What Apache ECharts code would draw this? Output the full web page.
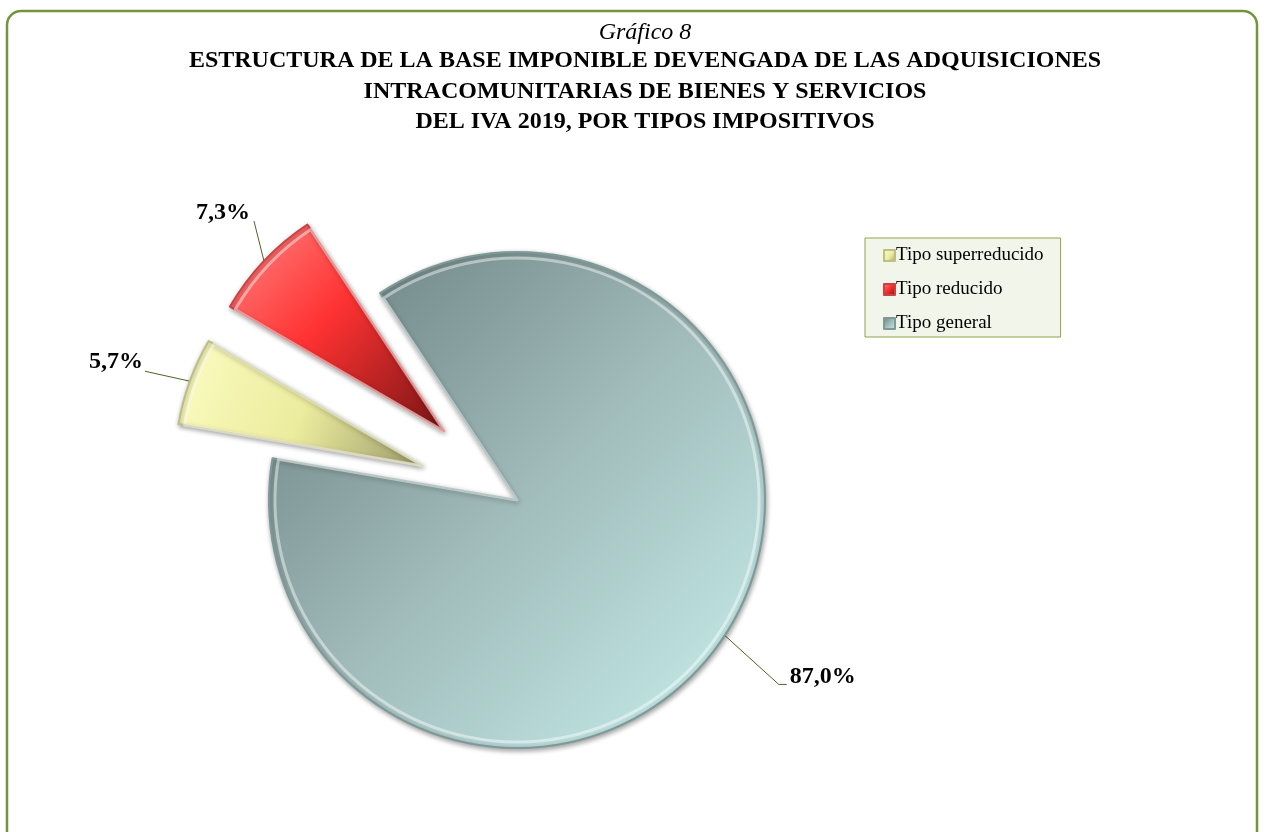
<!DOCTYPE html>
<html>
<head>
<meta charset="utf-8">
<script src="https://cdn.jsdelivr.net/npm/echarts@6/dist/echarts.min.js"></script>
<style>
html,body{margin:0;padding:0;background:#fff;}
#chart{width:1264px;height:832px;}
</style>
</head>
<body>
<div id="chart"></div>
<script>
const categories = ['Tipo superreducido', 'Tipo reducido', 'Tipo general'];
const values = [5.7, 7.3, 87.0];
const exploded = [true, true, false];

const titleLine = 'Gráfico 8';
const subtitleLines = [
  'ESTRUCTURA DE LA BASE IMPONIBLE DEVENGADA DE LAS ADQUISICIONES',
  'INTRACOMUNITARIAS DE BIENES Y SERVICIOS',
  'DEL IVA 2019, POR TIPOS IMPOSITIVOS'
];

const G = echarts.graphic.LinearGradient;
const sliceStyles = [
  { color: new G(0, 0.2, 1, 1, [{offset:0,color:'#fbfbc0'},{offset:0.5,color:'#ecec9e'},{offset:1,color:'#9a9a6a'}]), borderColor:'#bdbd86' },
  { color: new G(0, 0, 1, 1, [{offset:0,color:'#ff8686'},{offset:0.45,color:'#ff3232'},{offset:1,color:'#761414'}]), borderColor:'#c84444' },
  { color: new G(0, 0, 1, 1, [{offset:0,color:'#667c7b'},{offset:0.5,color:'#a0bbba'},{offset:1,color:'#c9f1ef'}]), borderColor:'#7f9998' }
];
// leader-line styling relative to the slice edge point computed by ECharts
const leaderStyle = [
  { elbow: [-45, -10], end: [-45, -10], side: 'left', gap: 2, raise: 9 },
  { elbow: [-10, -40], end: [-10, -40], side: 'left', gap: 4, raise: 8 },
  { elbow: [54, 49], end: [62, 49], side: 'right', gap: 3, raise: 8 }
];

function layoutLabel(p) {
  const s = leaderStyle[p.dataIndex];
  const pts = p.labelLinePoints;
  if (!pts) return {};
  const p0 = pts[0], p2 = pts[2];
  const elbow = [p0[0] + s.elbow[0], p0[1] + s.elbow[1]];
  const end = [p0[0] + s.end[0], p0[1] + s.end[1]];
  const curCenterY = p2[1];
  let curEdge, targetEdge;
  if (s.side === 'left') { curEdge = p2[0] - 2; targetEdge = end[0] - s.gap; }
  else { curEdge = p2[0] + 2; targetEdge = end[0] + s.gap; }
  return {
    dx: targetEdge - curEdge,
    dy: (end[1] - s.raise) - curCenterY,
    labelLinePoints: [p0, elbow, end]
  };
}

const chart = echarts.init(document.getElementById('chart'));
chart.setOption({
  backgroundColor: '#ffffff',
  animation: false,
  graphic: [{
    type: 'rect',
    shape: { x: 7, y: 11, width: 1250, height: 860, r: 14 },
    style: { fill: 'none', stroke: '#77933c', lineWidth: 2.5 },
    silent: true
  }],
  title: {
    text: titleLine,
    subtext: subtitleLines.join('\n'),
    left: 640,
    textAlign: 'center',
    top: 17,
    itemGap: 0,
    textStyle: { fontFamily: 'Liberation Serif', fontStyle: 'italic', fontWeight: 'normal', fontSize: 24, lineHeight: 22, color: '#000' },
    subtextStyle: { fontFamily: 'Liberation Serif', fontWeight: 'bold', fontSize: 24, lineHeight: 30.5, color: '#000' }
  },
  legend: {
    orient: 'vertical',
    left: 865,
    top: 238,
    padding: [8, 17, 4, 18],
    itemGap: 15,
    itemWidth: 11,
    itemHeight: 11,
    icon: 'rect',
    backgroundColor: '#f2f5ea',
    borderColor: '#8aa64a',
    borderWidth: 1,
    data: categories,
    textStyle: { fontFamily: 'Liberation Serif', fontSize: 19, color: '#000', padding: [0, 0, 0, -4] }
  },
  series: [{
    type: 'pie',
    center: [517, 500],
    radius: 248,
    startAngle: 170.3,
    clockwise: true,
    selectedMode: 'multiple',
    selectedOffset: 100,
    avoidLabelOverlap: false,
    emphasis: { disabled: true },
    label: {
      show: true,
      position: 'outside',
      formatter: p => p.value.toFixed(1).replace('.', ',') + '%',
      fontFamily: 'Liberation Serif',
      fontWeight: 'bold',
      fontSize: 24,
      color: '#000',
      distanceToLabelLine: 2
    },
    labelLine: { show: true, length: 30, length2: 10, lineStyle: { color: '#4f6228', width: 1 } },
    labelLayout: layoutLabel,
    itemStyle: { borderWidth: 2, shadowBlur: 5, shadowColor: 'rgba(0,0,0,0.35)', shadowOffsetX: 1, shadowOffsetY: 2 },
    data: categories.map((c, i) => ({
      name: c,
      value: values[i],
      selected: exploded[i],
      itemStyle: { color: sliceStyles[i].color, borderColor: sliceStyles[i].borderColor },
      select: { itemStyle: { color: sliceStyles[i].color, borderColor: sliceStyles[i].borderColor, borderWidth: 2 } }
    }))
  }, {
    type: 'pie',
    center: [517, 500],
    radius: 242,
    startAngle: 170.3,
    clockwise: true,
    selectedMode: 'multiple',
    selectedOffset: 100,
    silent: true,
    legendHoverLink: false,
    emphasis: { disabled: true },
    label: { show: false },
    labelLine: { show: false },
    itemStyle: { color: 'rgba(0,0,0,0)', borderColor: 'rgba(255,255,255,0.45)', borderWidth: 3 },
    select: { itemStyle: { color: 'rgba(0,0,0,0)', borderColor: 'rgba(255,255,255,0.45)', borderWidth: 3 } },
    data: categories.map((c, i) => ({ name: c, value: values[i], selected: exploded[i] }))
  }]
});
</script>
</body>
</html>
